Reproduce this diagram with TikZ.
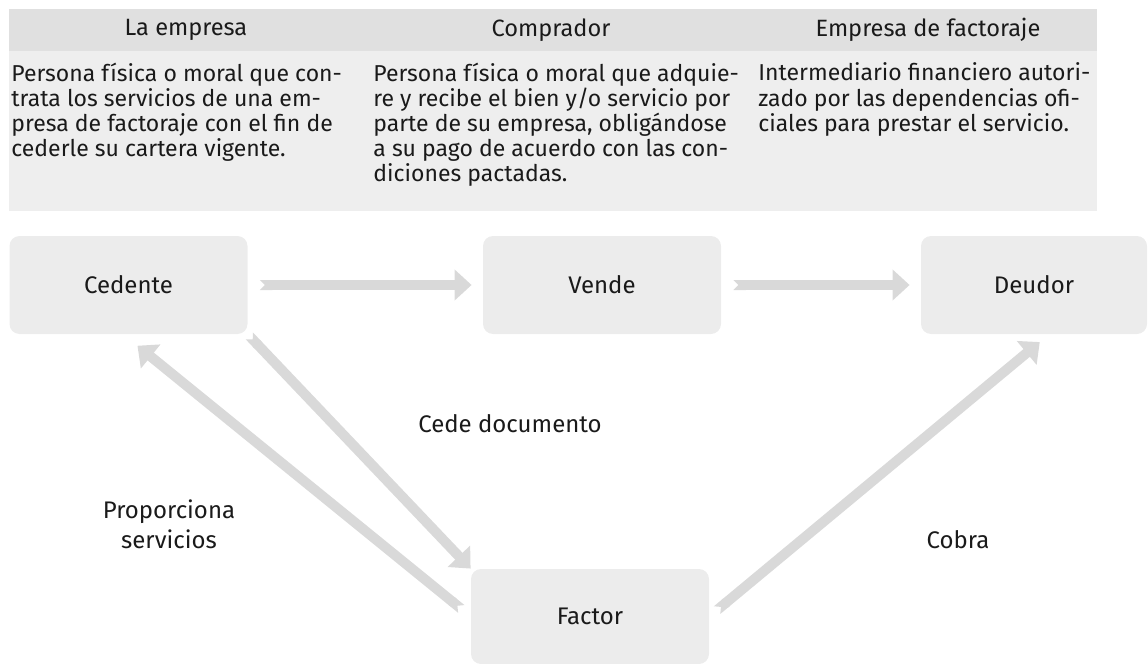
\documentclass[tikz,border=0pt]{standalone}
\usepackage{fontspec}
\setmainfont{Fira Sans}
\usepackage{xcolor}
\usetikzlibrary{arrows.meta, positioning}
\definecolor{cajagris}{RGB}{236, 236, 236}
\definecolor{flechagris}{RGB}{217, 217, 217}
\definecolor{cabeceragris}{RGB}{224, 224, 224}
\definecolor{cuerpogris}{RGB}{238, 238, 238}
\definecolor{tinta}{RGB}{26, 26, 26}

\begin{document}
\begin{tikzpicture}[
    x=0.5pt, y=-0.5pt,
    caja/.style={
        rectangle,
        fill=cajagris,
        rounded corners=5pt,
        minimum height=49pt,
        minimum width=119pt,
        inner sep=0pt,
        font=\fontsize{12}{13}\selectfont,
        text=tinta
    },
    titulo/.style={
        inner sep=0pt,
        font=\fontsize{11.8}{13}\selectfont,
        text=tinta
    },
    texto/.style={
        anchor=base west,
        inner sep=0pt,
        align=left,
        font=\fontsize{11.5}{12.5}\selectfont,
        text=tinta
    },
    etiqueta/.style={
        anchor=base,
        inner sep=0pt,
        align=center,
        font=\fontsize{12}{15}\selectfont,
        text=tinta
    },
    flecha/.style={
        line width=5pt,
        draw=flechagris,
        arrows={Triangle Cap[reversed]-Triangle[width=15pt, length=8.5pt]}
    }
]
    \useasboundingbox (0,0) rectangle (1148,664);

    % Table: header row and descriptions (anchored on the last line)
    \fill[cabeceragris] (9,9) rectangle (1097,51);
    \fill[cuerpogris] (9,51) rectangle (1097,211);
    \node[titulo] (t1) at (186,30) {La empresa};
    \node[titulo] (t2) at (551,30) {Comprador};
    \node[titulo] (t3) at (928,30) {Empresa de factoraje};

    \node[texto] (d1) at (11,156) {Persona física o moral que con-\\trata los servicios de una em-\\presa de factoraje con el fin de\\cederle su cartera vigente.};
    \node[texto] (d2) at (373,181) {Persona física o moral que adquie-\\re y recibe el bien y/o servicio por\\parte de su empresa, obligándose\\a su pago de acuerdo con las con-\\diciones pactadas.};
    \node[texto] (d3) at (758,131) {Intermediario financiero autori-\\zado por las dependencias ofi-\\ciales para prestar el servicio.};

    % Row 1: Cedente, Vende, Deudor
    \node[caja] (ced) at (128.5,285) {Cedente};
    \node[caja] (ven) at (602,285) {Vende};
    \node[caja, minimum width=113pt] (deu) at (1034,285) {Deudor};

    % Row 2: Factor
    \node[caja, minimum height=47.5pt] (fac) at (590,616.5) {Factor};

    % Flows
    \draw[flecha, shorten <=6pt, shorten >=5.5pt] (ced) -- (ven);
    \draw[flecha, shorten <=6pt, shorten >=5.5pt] (ven) -- (deu);
    \draw[flecha, shorten <=1pt] (ced.south east) -- (fac.north west);
    \draw[flecha, shorten <=6pt, shorten >=9pt] (fac.west) -- ([xshift=-2.5pt]ced.south);
    \draw[flecha, shorten <=5pt, shorten >=6pt] (fac.east) -- ([xshift=7.5pt]deu.south);

    % Labels
    \node[etiqueta] (lcede) at (510,432) {Cede documento};
    \node[etiqueta] (lprop) at (169,548) {Proporciona\\servicios};
    \node[etiqueta] (lcob) at (958,548) {Cobra};
\end{tikzpicture}
\end{document}
